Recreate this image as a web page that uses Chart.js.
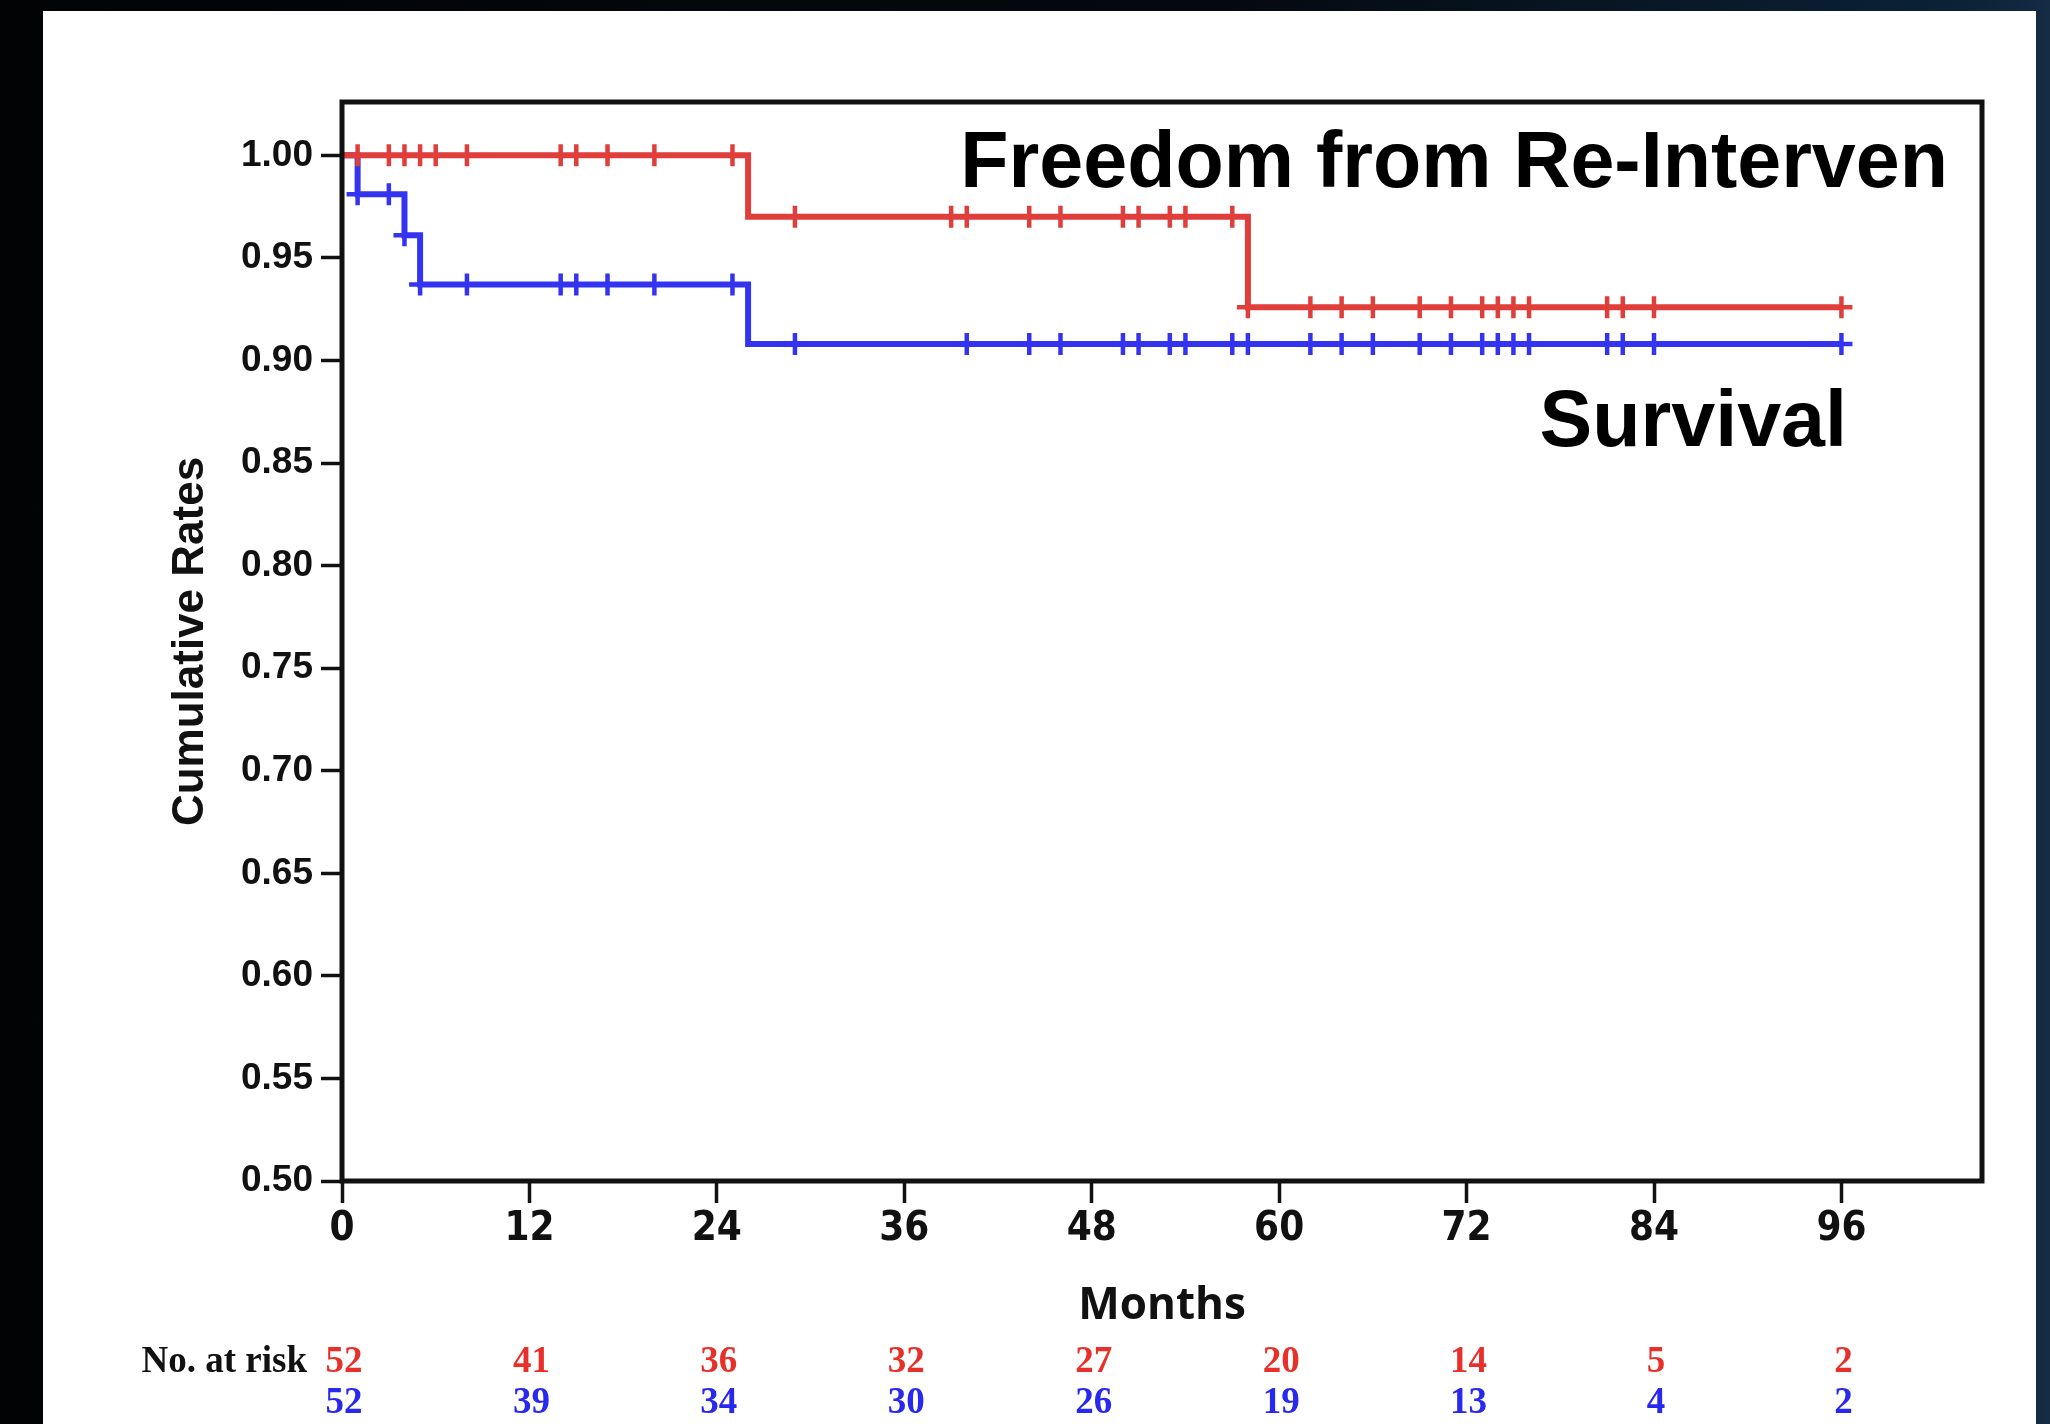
<!DOCTYPE html>
<html>
<head>
<meta charset="utf-8">
<script src="https://cdn.jsdelivr.net/npm/chart.js@4.4.1/dist/chart.umd.min.js"></script>
<style>
  html, body { margin: 0; padding: 0; }
  body {
    width: 2050px; height: 1424px; overflow: hidden; position: relative;
    background: linear-gradient(90deg, #020305 0%, #05090f 60%, #0b2238 96%, #142c44 100%);
  }
  #panel { position: absolute; left: 43px; top: 11px; width: 1993px; height: 1413px; background: #fff; }
  canvas { display: block; }
</style>
</head>
<body>
<div id="panel"><canvas id="km-chart" width="1993" height="1413"></canvas></div>
<script>
// axis ticks
const xTicks = [0, 12, 24, 36, 48, 60, 72, 84, 96];
const yTicks = [0.5, 0.55, 0.6, 0.65, 0.7, 0.75, 0.8, 0.85, 0.9, 0.95, 1.0];

// Kaplan-Meier steps (months, cumulative rate)
const reintTimes = [0, 26, 58, 96];
const reintRates = [1.0, 0.970, 0.926, 0.926];
const survTimes = [0, 1, 4, 5, 26, 96];
const survRates = [1.0, 0.981, 0.961, 0.937, 0.908, 0.908];

// censored observations
const reintCensorTimes = [1, 3, 4, 5, 6, 8, 14, 15, 17, 20, 25,
  29, 39, 40, 44, 46, 50, 51, 53, 54, 57,
  58, 62, 64, 66, 69, 71, 73, 74, 75, 76, 81, 82, 84, 96];
const reintCensorRates = [1, 1, 1, 1, 1, 1, 1, 1, 1, 1, 1,
  0.970, 0.970, 0.970, 0.970, 0.970, 0.970, 0.970, 0.970, 0.970, 0.970,
  0.926, 0.926, 0.926, 0.926, 0.926, 0.926, 0.926, 0.926, 0.926, 0.926, 0.926, 0.926, 0.926, 0.926];
const survCensorTimes = [1, 3, 4, 5, 8, 14, 15, 17, 20, 25,
  29, 40, 44, 46, 50, 51, 53, 54, 57, 58, 62, 64, 66, 69, 71, 73, 74, 75, 76, 81, 82, 84, 96];
const survCensorRates = [0.981, 0.981, 0.961, 0.937, 0.937, 0.937, 0.937, 0.937, 0.937, 0.937,
  0.908, 0.908, 0.908, 0.908, 0.908, 0.908, 0.908, 0.908, 0.908, 0.908, 0.908, 0.908, 0.908,
  0.908, 0.908, 0.908, 0.908, 0.908, 0.908, 0.908, 0.908, 0.908, 0.908];

// numbers at risk
const riskMonths = [0, 12, 24, 36, 48, 60, 72, 84, 96];
const reintAtRisk = [52, 41, 36, 32, 27, 20, 14, 5, 2];
const survAtRisk = [52, 39, 34, 30, 26, 19, 13, 4, 2];

const RED = "rgb(224, 62, 58)";
const BLUE = "rgb(52, 52, 240)";
const zip = (xs, ys) => xs.map((x, i) => ({ x: x, y: ys[i] }));

const framePlugin = {
  id: "frame",
  afterDraw(chart) {
    const { ctx, chartArea: a } = chart;
    ctx.save();
    ctx.strokeStyle = "#111";
    ctx.lineWidth = 5;
    ctx.strokeRect(a.left, a.top, a.right - a.left, a.bottom - a.top);
    ctx.restore();
  },
};

const labelsPlugin = {
  id: "curveLabels",
  afterDraw(chart) {
    const { ctx, chartArea: a, scales } = chart;
    ctx.save();
    ctx.fillStyle = "#000";
    ctx.textAlign = "right";
    ctx.textBaseline = "alphabetic";
    ctx.font = "bold 79px 'Liberation Sans', Arial, sans-serif";
    ctx.fillText("Freedom from Re-Interven", a.right - 34, a.top + 85);
    ctx.fillText("Survival", a.right - 135, a.top + 344);

    // No. at risk table
    ctx.font = "bold 37px 'Liberation Serif', 'Times New Roman', serif";
    const row1 = a.bottom + 191;
    const row2 = a.bottom + 232;
    ctx.fillStyle = "#111";
    ctx.fillText("No. at risk", a.left - 35, row1);
    ctx.textAlign = "center";
    riskMonths.forEach((m, i) => {
      const x = scales.x.getPixelForValue(m) + 2;
      ctx.fillStyle = "rgb(232, 48, 42)";
      ctx.fillText(String(reintAtRisk[i]), x, row1);
      ctx.fillStyle = "rgb(40, 40, 238)";
      ctx.fillText(String(survAtRisk[i]), x, row2);
    });
    ctx.restore();
  },
};

const ctx = document.getElementById("km-chart").getContext("2d");
new Chart(ctx, {
  type: "line",
  data: {
    datasets: [
      {
        label: "Freedom from Re-Intervention",
        data: zip(reintTimes, reintRates),
        borderColor: RED,
        borderWidth: 6,
        stepped: true,
        pointRadius: 0,
        fill: false,
      },
      {
        label: "Re-Intervention censored",
        type: "scatter",
        data: zip(reintCensorTimes, reintCensorRates),
        pointStyle: "cross",
        pointRadius: 11,
        borderColor: RED,
        borderWidth: 4.5,
        showLine: false,
      },
      {
        label: "Survival",
        data: zip(survTimes, survRates),
        borderColor: BLUE,
        borderWidth: 6,
        stepped: true,
        pointRadius: 0,
        fill: false,
      },
      {
        label: "Survival censored",
        type: "scatter",
        data: zip(survCensorTimes, survCensorRates),
        pointStyle: "cross",
        pointRadius: 11,
        borderColor: BLUE,
        borderWidth: 4.5,
        showLine: false,
      },
    ],
  },
  options: {
    responsive: false,
    animation: false,
    layout: { padding: { left: 0, top: 91, right: 54, bottom: 83 } },
    plugins: {
      legend: { display: false },
      tooltip: { enabled: false },
    },
    scales: {
      x: {
        type: "linear",
        min: 0,
        max: 105,
        afterBuildTicks: (scale) => {
          scale.ticks = xTicks.map((v) => ({ value: v }));
        },
        afterFit: (scale) => {
          scale.height = 160;
        },
        border: { display: false },
        grid: {
          drawOnChartArea: false,
          drawTicks: true,
          tickLength: 22,
          tickWidth: 3.5,
          tickColor: "#111",
        },
        ticks: {
          autoSkip: false,
          maxRotation: 0,
          padding: 3,
          color: "#111",
          font: { family: "'Liberation Sans Narrow', 'Arial Narrow', 'DejaVu Sans Condensed', sans-serif", weight: "bold", size: 40 },
        },
        title: {
          display: true,
          text: "Months",
          color: "#111",
          font: { family: "'Open Sans', sans-serif", weight: "bold", size: 44 },
          padding: { top: 0, bottom: 8 },
        },
      },
      y: {
        min: 0.5,
        max: 1.026,
        afterBuildTicks: (scale) => {
          scale.ticks = yTicks.map((v) => ({ value: v }));
        },
        afterFit: (scale) => {
          scale.width = 299;
        },
        border: { display: false },
        grid: {
          drawOnChartArea: false,
          drawTicks: true,
          tickLength: 21,
          tickWidth: 3.5,
          tickColor: "#111",
        },
        ticks: {
          autoSkip: false,
          padding: 8,
          color: "#111",
          callback: (v) => Number(v).toFixed(2),
          font: { family: "'Liberation Sans', Arial, sans-serif", weight: "bold", size: 37 },
        },
        title: {
          display: true,
          text: "Cumulative Rates",
          color: "#111",
          font: { family: "'Liberation Sans', Arial, sans-serif", weight: "bold", size: 44 },
          padding: { top: 121, bottom: 0 },
        },
      },
    },
  },
  plugins: [framePlugin, labelsPlugin],
});
</script>
</body>
</html>
